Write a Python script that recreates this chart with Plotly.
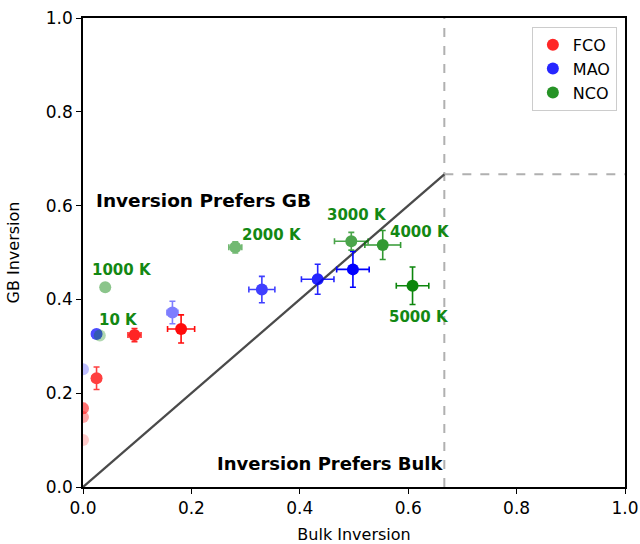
import plotly.graph_objects as go

temps = [10, 1000, 2000, 3000, 4000, 5000]

fco_x = [0.0, 0.0, 0.0, 0.025, 0.095, 0.181]
fco_y = [0.100, 0.149, 0.168, 0.232, 0.324, 0.337]
fco_xerr = [0.003, 0.003, 0.004, 0.008, 0.012, 0.025]
fco_yerr = [0.005, 0.008, 0.010, 0.024, 0.014, 0.030]
fco_alpha = [0.2, 0.35, 0.55, 0.75, 0.85, 0.95]

mao_x = [0.0, 0.025, 0.165, 0.330, 0.433, 0.498]
mao_y = [0.251, 0.326, 0.372, 0.421, 0.443, 0.464]
mao_xerr = [0.003, 0.008, 0.010, 0.024, 0.030, 0.030]
mao_yerr = [0.004, 0.008, 0.024, 0.028, 0.032, 0.038]
mao_alpha = [0.25, 0.7, 0.5, 0.75, 0.85, 1.0]

nco_x = [0.031, 0.041, 0.281, 0.495, 0.553, 0.608]
nco_y = [0.323, 0.426, 0.511, 0.524, 0.516, 0.429]
nco_xerr = [0.004, 0.004, 0.012, 0.031, 0.033, 0.030]
nco_yerr = [0.004, 0.004, 0.012, 0.019, 0.031, 0.040]
nco_alpha = [0.3, 0.45, 0.55, 0.7, 0.8, 0.95]

temp_labels = ["10 K", "1000 K", "2000 K", "3000 K", "4000 K", "5000 K"]
temp_label_x = [0.065, 0.072, 0.348, 0.505, 0.622, 0.619]
temp_label_y = [0.356, 0.463, 0.537, 0.580, 0.544, 0.363]

threshold = 2 / 3

series = [
    ("FCO", "#ff0000", fco_x, fco_y, fco_xerr, fco_yerr, fco_alpha),
    ("MAO", "#0000ff", mao_x, mao_y, mao_xerr, mao_yerr, mao_alpha),
    ("NCO", "#008000", nco_x, nco_y, nco_xerr, nco_yerr, nco_alpha),
]

fig = go.Figure()

# reference lines
fig.add_trace(go.Scatter(x=[threshold, threshold], y=[0, 1], mode="lines",
                         line=dict(color="#b0b0b0", width=2, dash="dash"),
                         showlegend=False, hoverinfo="skip"))
fig.add_trace(go.Scatter(x=[threshold, 1], y=[threshold, threshold], mode="lines",
                         line=dict(color="#b0b0b0", width=2, dash="dash"),
                         showlegend=False, hoverinfo="skip"))
fig.add_trace(go.Scatter(x=[0, threshold], y=[0, threshold], mode="lines",
                         line=dict(color="#4a4a4a", width=2.3),
                         showlegend=False, hoverinfo="skip"))

for name, col, xs, ys, xe, ye, al in series:
    for i in range(len(xs)):
        fig.add_trace(go.Scatter(
            x=[xs[i]], y=[ys[i]], mode="markers",
            marker=dict(size=12, color=col, line=dict(width=0)),
            error_x=dict(type="data", array=[xe[i]], color=col, thickness=1.6, width=3),
            error_y=dict(type="data", array=[ye[i]], color=col, thickness=1.6, width=3),
            opacity=al[i], showlegend=False, legendgroup=name,
            name=f"{name} {temps[i]} K",
        ))
    fig.add_trace(go.Scatter(x=[None], y=[None], mode="markers", name=name,
                             marker=dict(size=14, color=col, opacity=0.85),
                             legendgroup=name, showlegend=True))

for t, tx, ty in zip(temp_labels, temp_label_x, temp_label_y):
    fig.add_annotation(x=tx, y=ty, text=f"<b>{t}</b>", showarrow=False,
                       font=dict(family="DejaVu Sans", size=15, color="#138813"))

fig.add_annotation(x=0.223, y=0.610, text="<b>Inversion Prefers GB</b>", showarrow=False,
                   font=dict(family="DejaVu Sans", size=18.5, color="black"))
fig.add_annotation(x=0.456, y=0.051, text="<b>Inversion Prefers Bulk</b>", showarrow=False,
                   font=dict(family="DejaVu Sans", size=18, color="black"))

axis_common = dict(range=[0, 1], tickvals=[0, 0.2, 0.4, 0.6, 0.8, 1.0],
                   ticktext=["0.0", "0.2", "0.4", "0.6", "0.8", "1.0"],
                   showline=True, mirror=True, linecolor="black", linewidth=1.5,
                   ticks="outside", ticklen=5, tickwidth=1.3, tickcolor="black",
                   showgrid=False, zeroline=False, automargin=False,
                   tickfont=dict(family="DejaVu Sans", size=17, color="black"))

fig.update_xaxes(**axis_common, title=dict(text="Bulk Inversion", standoff=16,
                 font=dict(family="DejaVu Sans", size=16, color="black")))
fig.update_yaxes(**axis_common, title=dict(text="GB Inversion", standoff=22,
                 font=dict(family="DejaVu Sans", size=16, color="black")))

fig.update_layout(
    width=640, height=544,
    margin=dict(l=83, r=15, t=18, b=57),
    plot_bgcolor="white", paper_bgcolor="white",
    font=dict(family="DejaVu Sans", color="black"),
    legend=dict(x=0.985, y=0.981, xanchor="right", yanchor="top",
                bgcolor="white", bordercolor="#cccccc", borderwidth=1,
                tracegroupgap=0,
                font=dict(family="DejaVu Sans", size=16, color="black"),
                itemsizing="constant"),
)

fig.write_html("out.html", config={"displayModeBar": False},
               post_script="document.body.style.margin='0';document.body.style.overflow='hidden';")
